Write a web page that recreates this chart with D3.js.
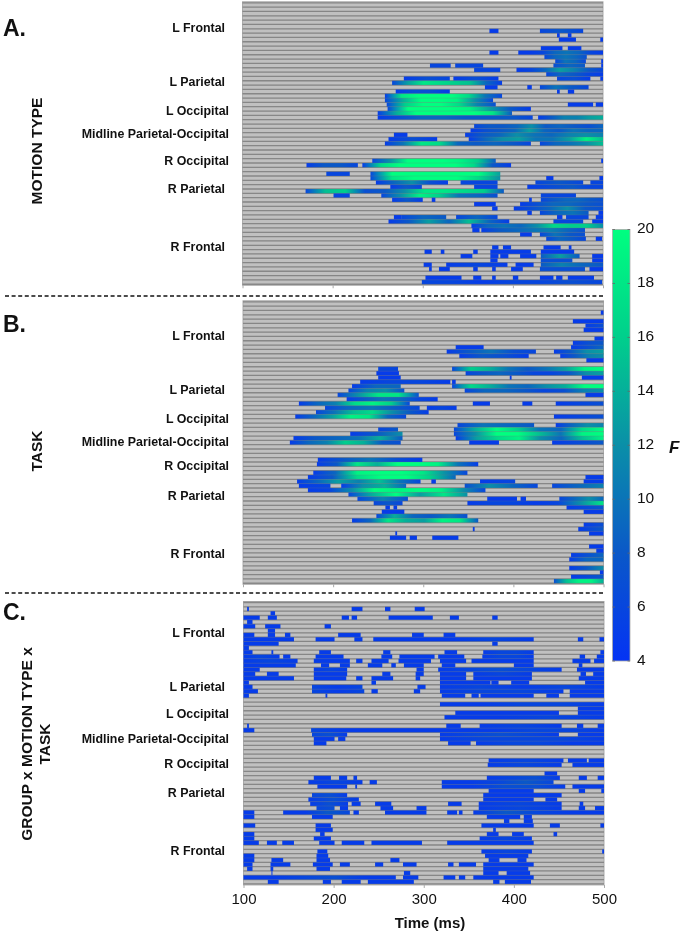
<!DOCTYPE html>
<html><head><meta charset="utf-8">
<script src="https://cdnjs.cloudflare.com/ajax/libs/d3/7.8.5/d3.min.js"></script>
<style>html,body{margin:0;padding:0;background:#fff}svg{display:block;filter:blur(.35px)}text{font-family:"Liberation Sans",Arial,sans-serif;fill:#111}</style>
</head><body><svg id="c" width="685" height="932"></svg>
<script>
// Each row: [electrode row, [startMs, endMs, F values across the span...], ...]; no values means F about 5
const motionRows=[
[6,[374,384],[430,478,6,8,6]],[7,[449,452],[461,465]],[8,[451,470],[497,500]],
[10,[431,455],[461,476]],[11,[374,384],[406,500,5,5,6,9,10,9,6,5]],[12,[435,482,6,9,10,9,7]],
[13,[447,481,6,10,9,6],[498,500]],[14,[308,331,6],[336,367,6],[445,480,7,9,8],[498,500]],
[15,[357,386,6],[404,500,5,6,9,13,11,8,6]],[16,[437,500,6,9,8,6,5]],
[17,[279,330,5,7,6],[334,384,5,7,5],[449,486,6,7,5],[497,500]],
[18,[266,388,6,13,18,17,16,15,9,5]],[19,[369,383],[416,421],[430,484,6,10,8,6]],
[20,[270,330,5,7,7,5],[449,452],[461,468]],[21,[258,388,5,18,20,20,20,17,10,6]],
[22,[258,378,6,14,20,20,19,12,6]],[23,[260,381,6,16,20,20,17,11,7],[461,489],[492,500]],
[24,[261,420,6,20,20,20,19,13,8,5]],[25,[250,399,5,14,20,20,20,20,18,8]],
[26,[250,422,5,7,9,9,8,8,8,6],[428,500,5,8,11,11,13,14]],
[28,[357,500,6,8,8,9,12,8,9,8,7,9]],[29,[353,500,5,7,8,9,13,9,8,10,9,9]],
[30,[268,283],[347,500,5,8,9,12,10,9,11,12,11]],[31,[262,316,5,7,5],[351,500,5,9,12,13,10,10,13,19,15]],
[32,[258,420,5,10,18,17,9,8,9,8,6],[430,500,6,9,10,12,15]],
[36,[244,381,6,12,20,20,20,19,16,8],[498,500]],[37,[171,228,5,8,8,6],[233,398,5,17,20,20,20,20,17,8,5]],
[39,[193,219,6],[242,386,6,20,20,20,20,20,13]],[40,[242,386,6,18,20,20,20,17,12],[437,445],[496,500]],
[41,[248,328,5,9,12,7,5],[342,383,6],[425,478,6,8,6],[486,500,6]],[42,[264,299,5,8,6],[357,383,6],[416,500,5,6,7,8,6,6]],
[43,[170,390,6,15,16,7,8,12,18,18,17,16,8]],[44,[201,219,6],[254,383,6,12,19,16,10,9,7],[431,470,6]],
[45,[266,300,5,8,5],[310,314],[418,421],[431,500,6,8,9,9,8,7]],[46,[357,381],[408,500,5,7,9,9,8,7]],
[47,[377,383],[401,500,5,7,9,12,8,7]],[48,[416,421],[430,484,6,9,10,8],[495,500]],
[49,[268,276],[276,326,6,9,8],[337,383,6,9,6],[449,455],[459,484,6],[492,500]],
[50,[262,396,5,8,13,9,15,9,5],[445,478,6],[488,500]],[51,[354,500,5,9,10,9,12,17,16,16,12]],
[52,[355,363],[365,480,5,8,9,10,11,9,7]],[53,[408,421],[430,480,6,10,8,7]],[54,[437,481,6,9,8,6],[492,499]],
[56,[377,384],[389,398],[434,453],[462,465]],[57,[302,310],[320,324],[356,361],[375,420],[431,468]],
[58,[342,355],[375,384],[386,395],[408,426],[431,474,8,13,8],[488,500]],[59,[375,383],[431,466,7],[488,500]],
[60,[301,310],[326,394,5,6,5],[403,423],[431,500,8,11,9,8]],[61,[307,310],[318,330],[356,361],[377,381],[398,411],[430,480,7],[485,500]],
[63,[303,343],[356,365],[377,381],[400,406],[430,445],[448,455],[461,490]],[64,[299,499,6,6,5,6,6,7,6]]
];
const taskRows=[
[2,[497,500]],[4,[466,500]],[5,[480,500,5,7]],[6,[478,500]],[8,[490,500]],[9,[466,500,5,7,8]],
[10,[336,367],[464,500,5,7,9]],[11,[326,425,5,8,10,7,6],[445,500,5,8,12,13]],[12,[340,417,5,8,7,5],[452,500,5,8,11,12]],[13,[481,500]],
[15,[250,272,6],[332,500,6,16,14,10,8,10,13,19,20]],[16,[248,273],[347,500,6,8,9,8,6,6,8,12,13]],
[17,[250,275],[396,398],[476,500]],[18,[230,330,5,6,6,5],[332,336]],
[19,[221,275,5,9,9],[332,500,6,17,14,10,9,12,14,20,20]],[20,[217,279,6,11,12,7],[346,500,6,9,9,8,6,7,11,12]],
[21,[205,295,6,12,18,18,7],[480,500]],[22,[215,316,5,8,10,9,6,5]],
[23,[162,285,5,9,11,17,19,16,6],[355,374],[410,421],[447,500,5,6,7]],[24,[191,296,6,9,10,8,6],[304,337,5,6,5]],
[25,[181,306,6,10,15,17,12,8,5]],[26,[158,281,5,9,13,19,18,9,6],[445,500,5,7]],
[28,[338,423,6,10,9,8],[447,500,5,9,12,11]],[29,[250,272,6,8],[334,500,6,14,20,16,10,9,17,20]],
[30,[219,277,5,8,12],[334,500,6,12,20,20,15,10,19,20]],[31,[156,277,5,8,9,10,14,8],[336,500,5,13,17,19,12,9,15,19]],
[32,[152,275,5,9,11,16,14,8,7],[351,384],[443,500,5,8]],
[36,[183,299,5,8,10,7,5]],[37,[182,361,5,8,18,14,20,20,19,10,5]],[39,[178,349,5,9,19,20,20,18,12,6]],
[40,[172,336,5,8,17,20,20,16,9],[480,500]],[41,[160,297,5,9,13,11,15,10,6],[309,314],[363,402,5,6],[478,500]],
[42,[162,197,5,6],[209,281,5,12,14,9],[346,427,7,12,9,6],[443,500,6,9,11]],[43,[172,369,5,6,12,20,19,20,19,12,6]],
[44,[217,349,6,14,20,13,18,12]],[45,[227,283,6,11,7],[371,404],[408,414],[451,500,6,9,12,9]],
[46,[245,277,6,8,6],[349,500,5,6,6,5,6,12,18]],[47,[258,263],[267,271],[459,500,5,8]],[48,[254,279],[478,500]],
[49,[248,349,6,14,9,8,10,7]],[50,[221,361,5,9,18,14,13,19,18,8]],[51,[478,500,5,7]],[52,[355,357],[472,500,5,8]],
[53,[269,271],[484,500]],[54,[263,281],[285,293],[310,339]],[56,[484,500]],[57,[492,500]],[58,[464,500,5,9]],
[59,[462,500,5,9,9]],[61,[462,500,5,8,12]],[62,[496,500]],[63,[464,500,5,8]],[64,[445,500,7,15,19,19,14]]
];
const interactionRows=[
[1,[104,106],[220,232],[257,263],[290,301]],[2,[130,135]],[3,[100,118],[127,137],[209,217],[220,226],[261,310],[329,339],[376,382]],
[4,[104,110]],[5,[100,113],[124,141],[190,197]],[6,[127,135]],[7,[100,112],[127,135],[146,152],[205,230],[287,300],[322,335]],
[8,[100,156],[180,201],[223,232],[244,422,5,5,5,6,5],[471,477],[495,500]],[9,[100,139],[376,382]],[10,[100,106]],
[11,[100,110],[131,133],[184,197],[255,263],[323,337],[366,422,5,6,6,5],[496,500]],
[12,[100,140,5,6,5],[144,152],[180,211],[253,265],[273,312],[316,345],[365,422,5,6,6,5],[473,479],[492,500]],
[13,[100,160,5,6,5],[178,218],[225,232],[242,261],[272,308],[318,347],[353,422],[465,485],[489,500]],
[14,[100,158],[186,195],[207,218],[238,254],[264,269],[278,300],[320,335],[400,422],[472,476]],
[15,[100,118],[178,215,5,6,5],[292,300],[316,453,5,6,7,6,5],[470,500]],
[16,[100,113],[126,139],[178,215],[254,263],[291,300],[318,347],[355,420,5,6,5],[474,480],[488,500]],
[17,[100,156],[178,214],[225,232],[242,266],[291,296],[318,347],[355,420],[472,500]],
[18,[100,106],[242,247],[318,374],[375,383],[397,417],[479,500]],[19,[100,110],[176,232,6,5,6],[293,302],[318,500,5,6,5,6,5]],
[20,[100,116],[176,234,6,5,6],[242,249],[289,296],[318,455,5,6,6,5],[462,500]],
[21,[100,106],[191,193],[320,346],[353,361],[363,422],[436,450],[462,500]],
[23,[318,500,5,5,6,6,5]],[24,[471,500]],[25,[335,450],[471,500]],[26,[323,500,5,5,6,5]],
[28,[104,106],[325,341],[362,453,5,6,5],[470,477],[493,500]],[29,[100,112],[175,500,6,5,5,5,5,5,6,6,5]],
[30,[176,215,6,7,5],[318,450,5,6,7,6,5],[471,500]],[31,[178,201],[205,213],[318,500,5,6,6,6,5]],[32,[178,192],[327,352],[358,500,5,6,6,5,5]],
[36,[372,455,5,6,5],[460,481],[483,500]],[37,[371,453,5,6,5],[465,500]],[39,[434,448]],
[40,[178,197],[206,215],[222,226],[370,451,5,6,7,5],[472,481],[493,500]],[41,[172,232,5,6,5],[240,248],[320,444,5,5,6,8,6]],
[42,[182,215],[224,226],[320,457,5,5,7,7,5],[465,500]],[43,[372,422],[472,479],[497,500]],[44,[176,215,6,7,5],[366,453]],
[45,[172,228,5,7,5],[366,422],[435,448]],[46,[174,216,5,7,5],[220,230],[246,264],[327,342],[361,453,5,6,5],[473,477]],
[47,[181,201,6,7],[207,216],[252,266],[292,303],[361,453,5,6,5],[472,479],[490,500]],
[48,[100,112],[144,218,5,5,8,6],[222,228],[257,303],[326,337],[339,343],[355,500,5,8,6,5,5]],[49,[100,112],[176,199],[370,407],[411,420]],
[50,[389,395],[411,421]],[51,[100,113],[180,197],[364,422],[440,451],[496,500]],[52,[180,199],[377,380]],
[53,[100,112],[185,190],[370,383],[398,411],[444,448]],[54,[100,112],[178,197],[362,420,5,6,5]],
[55,[100,117],[126,137],[143,156],[184,201],[209,234],[242,298],[326,422]],[57,[182,193],[364,420,5,6,5],[498,500]],
[58,[100,112],[181,194],[368,416]],[59,[100,112],[131,144],[181,196],[263,273],[372,384],[404,414]],
[60,[100,110],[130,152],[177,199],[207,218],[246,255],[277,292],[327,333],[339,358],[366,422]],
[61,[104,110],[130,133],[181,196],[366,416]],[62,[131,132],[278,285],[366,383],[392,418]],
[63,[100,269,5,5,6,7,5,5],[277,294],[322,335],[339,346],[355,422]],[64,[127,139],[188,197],[209,230],[238,289],[377,384],[390,419]]
];
const regionNames=["L Frontal","L Parietal","L Occipital","Midline Parietal-Occipital","R Occipital","R Parietal","R Frontal"];
const timeTicks=[100,200,300,400,500];
const fTicks=[4,6,8,10,12,14,16,18,20];
const panelLetters=["A.","B.","C."];
const panelTitles=[["MOTION TYPE"],["TASK"],["GROUP x MOTION TYPE x","TASK"]];

const ROWS=65,ROWH=4.33;
const color=d3.scaleLinear().domain([4,8,12,16,20]).range(["#0433f4","#0a58c8","#0a8fa8","#00cf8c","#00ff80"]);
const svg=d3.select("#c"),defs=svg.append("defs");
const panels=[
 {rows:motionRows,x0:242.5,x1:603,top:2.8},
 {rows:taskRows,x0:243,x1:603.5,top:301.8},
 {rows:interactionRows,x0:243.5,x1:604,top:602.5}];
let gid=0;
panels.forEach((p,pi)=>{
 const x=d3.scaleLinear().domain([100,500]).range([p.x0,p.x1]);
 const y=d3.scaleBand().domain(d3.range(ROWS)).range([p.top,p.top+ROWS*ROWH]);
 const g=svg.append("g");
 g.append("rect").attr("x",p.x0).attr("y",p.top-1).attr("width",p.x1-p.x0).attr("height",ROWS*ROWH+2).attr("fill","#c0c0c0").attr("stroke","#aaa").attr("stroke-width",1);
 g.selectAll("line.row").data(d3.range(ROWS+1)).enter().append("line")
  .attr("x1",p.x0).attr("x2",p.x1)
  .attr("y1",d=>p.top+d*ROWH).attr("y2",d=>p.top+d*ROWH)
  .attr("stroke","#8c8c8c").attr("stroke-width",1.3);
 p.rows.forEach(r=>{
  const row=r[0];
  r.slice(1).forEach(s=>{
   const [t0,t1,...v]=s,vals=v.length?v:[5];let fill;
   if(vals.length===1)fill=color(vals[0]);
   else{const id="g"+(gid++);const lg=defs.append("linearGradient").attr("id",id);
    vals.forEach((f,i)=>lg.append("stop").attr("offset",i/(vals.length-1)).attr("stop-color",color(f)));fill=`url(#${id})`;}
   g.append("rect").attr("x",x(t0)).attr("y",y(row)).attr("width",Math.max(x(t1)-x(t0),1)).attr("height",y.bandwidth()).attr("fill",fill);
  });
 });
 g.selectAll("line.over").data(d3.range(ROWS+1)).enter().append("line")
  .attr("x1",p.x0).attr("x2",p.x1)
  .attr("y1",d=>p.top+d*ROWH).attr("y2",d=>p.top+d*ROWH)
  .attr("stroke","#777").attr("stroke-opacity",.3).attr("stroke-width",.8);
 const ax=svg.append("g").attr("transform",`translate(0,${p.top+ROWS*ROWH+1})`)
  .call(d3.axisBottom(x).tickValues(timeTicks).tickSize(3).tickFormat(pi===2?d3.format("d"):""));
 ax.select(".domain").remove();
 ax.selectAll("line").attr("stroke","#aaa");
 ax.selectAll("text").attr("font-size",15).attr("dy",".35em").attr("y",14);
 regionNames.forEach((n,i)=>{
  const yy=[[28,82,111,134,161,189,247],[336,390,419,442,466,496,554],[633,687,714,739,764,793,851]][pi][i];
  svg.append("text").attr("x",i===0||i===1||i===5||i===6?225:229).attr("y",yy+4).attr("text-anchor","end")
   .attr("font-size",12.4).attr("font-weight","bold").text(n);
 });
 svg.append("text").attr("x",3).attr("y",[36,332,620][pi]).attr("font-size",23).attr("font-weight","bold").text(panelLetters[pi]);
 const tc=[[37],[37],[27,45]][pi],ty=[151,451,744][pi];
 panelTitles[pi].forEach((t,i)=>{
  svg.append("text").attr("transform",`translate(${tc[i]+5},${ty}) rotate(-90)`).attr("text-anchor","middle")
   .attr("font-size",15.5).attr("font-weight","bold").text(t);
 });
});
[296,593].forEach(yy=>svg.append("line").attr("x1",5).attr("x2",605).attr("y1",yy).attr("y2",yy)
 .attr("stroke","#111").attr("stroke-width",1.6).attr("stroke-dasharray","4 2.6"));
svg.append("text").attr("x",430).attr("y",928).attr("text-anchor","middle").attr("font-size",15).attr("font-weight","bold").text("Time (ms)");
// colour bar
const fy=d3.scaleLinear().domain([4,20]).range([661,229.5]);
const bar=defs.append("linearGradient").attr("id","bar").attr("x1",0).attr("x2",0).attr("y1",1).attr("y2",0);
fTicks.forEach(f=>bar.append("stop").attr("offset",(f-4)/16).attr("stop-color",color(f)));
svg.append("rect").attr("x",612.5).attr("y",fy(20)).attr("width",17.5).attr("height",fy(4)-fy(20)).attr("fill","url(#bar)").attr("stroke","#aaa").attr("stroke-width",.8);
const fax=svg.append("g").attr("transform","translate(630,-1.5)").call(d3.axisRight(fy).tickValues(fTicks).tickSize(0).tickPadding(7));
fax.select(".domain").remove();
fax.selectAll("text").attr("font-size",15.5);
fTicks.forEach(f=>{[[612.5,615],[627.5,630]].forEach(a=>svg.append("line").attr("x1",a[0]).attr("x2",a[1]).attr("y1",fy(f)).attr("y2",fy(f)).attr("stroke","#666").attr("stroke-width",.8));});
svg.append("text").attr("x",669).attr("y",453).attr("font-size",17).attr("font-weight","bold").attr("font-style","italic").text("F");
</script></body></html>
